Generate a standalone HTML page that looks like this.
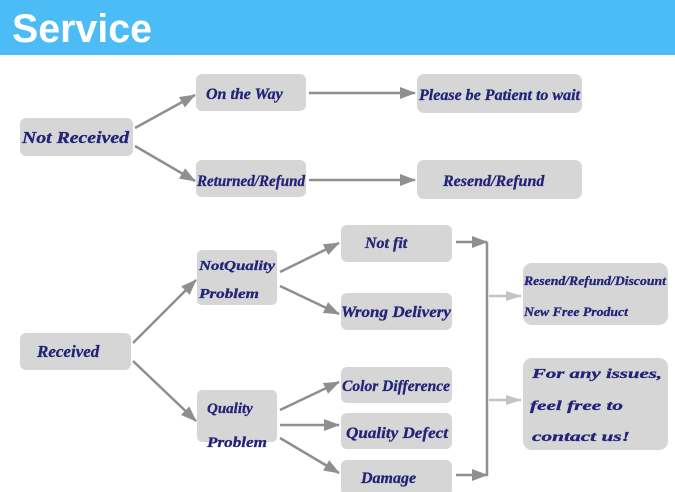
<!DOCTYPE html>
<html><head><style>
body{margin:0;width:675px;height:492px;overflow:hidden;background:#fff}
svg{display:block}
text{font-family:"Liberation Serif",serif;font-weight:bold;font-style:italic;fill:#23237a;stroke:#23237a;stroke-width:0.3}
</style></head><body>
<svg width="675" height="492" viewBox="0 0 675 492">
<defs>
<marker id="a" markerWidth="16" markerHeight="12" refX="15" refY="6" orient="auto" markerUnits="userSpaceOnUse"><path d="M0,0 L16,6 L0,12 z" fill="#8f8f8f"/></marker>
<marker id="b" markerWidth="16" markerHeight="12" refX="15" refY="6" orient="auto" markerUnits="userSpaceOnUse"><path d="M0,1 L16,6 L0,11 z" fill="#c4c4c4"/></marker>
</defs>
<rect x="0" y="0" width="675" height="55" fill="#4bbcf5"/>
<text x="12" y="42" style="font-family:'Liberation Sans',sans-serif;font-style:normal;font-weight:bold;fill:#fff;stroke:none;font-size:40px" textLength="140" lengthAdjust="spacingAndGlyphs">Service</text>
<g fill="#d6d6d6">
<rect x="20" y="118" width="113" height="38" rx="6"/>
<rect x="196" y="74" width="110" height="37" rx="6"/>
<rect x="417" y="74" width="165" height="39" rx="7"/>
<rect x="196" y="160" width="110" height="37" rx="6"/>
<rect x="417" y="160" width="165" height="39" rx="7"/>
<rect x="20" y="333" width="111" height="37" rx="6"/>
<rect x="197" y="250" width="80" height="55" rx="5"/>
<rect x="341" y="225" width="111" height="37" rx="6"/>
<rect x="341" y="293" width="111" height="37" rx="6"/>
<rect x="197" y="390" width="80" height="52" rx="5"/>
<rect x="341" y="367" width="111" height="36" rx="6"/>
<rect x="341" y="413" width="111" height="36" rx="6"/>
<rect x="341" y="460" width="111" height="36" rx="6"/>
<rect x="523" y="263" width="145" height="62" rx="9"/>
<rect x="523" y="358" width="145" height="92" rx="9"/>
</g>
<g stroke="#8f8f8f" stroke-width="2.5" fill="none">
<line x1="135" y1="128" x2="195" y2="95" marker-end="url(#a)"/>
<line x1="135" y1="146" x2="195" y2="181" marker-end="url(#a)"/>
<line x1="309" y1="93" x2="415" y2="93" marker-end="url(#a)"/>
<line x1="309" y1="180" x2="415" y2="180" marker-end="url(#a)"/>
<line x1="133" y1="343" x2="196" y2="280" marker-end="url(#a)"/>
<line x1="133" y1="361" x2="196" y2="421" marker-end="url(#a)"/>
<line x1="280" y1="272" x2="339" y2="243" marker-end="url(#a)"/>
<line x1="280" y1="286" x2="339" y2="314" marker-end="url(#a)"/>
<line x1="280" y1="410" x2="339" y2="382" marker-end="url(#a)"/>
<line x1="280" y1="425" x2="339" y2="425" marker-end="url(#a)"/>
<line x1="280" y1="438" x2="339" y2="473" marker-end="url(#a)"/>
<line x1="456" y1="242" x2="487" y2="242" marker-end="url(#a)"/>
<line x1="456" y1="475" x2="487" y2="475" marker-end="url(#a)"/>
<line x1="487" y1="242" x2="487" y2="476"/>
</g>
<g stroke="#c4c4c4" stroke-width="2.5">
<line x1="489" y1="296" x2="521" y2="296" marker-end="url(#b)"/>
<line x1="489" y1="400" x2="521" y2="400" marker-end="url(#b)"/>
</g>
<g font-size="16">
<text x="22" y="143" font-size="17" textLength="107" lengthAdjust="spacingAndGlyphs">Not Received</text>
<text x="206" y="99">On the Way</text>
<text x="419" y="100" textLength="161" lengthAdjust="spacingAndGlyphs">Please be Patient to wait</text>
<text x="197" y="186" textLength="108" lengthAdjust="spacingAndGlyphs">Returned/Refund</text>
<text x="443" y="186">Resend/Refund</text>
<text x="37" y="357" font-size="17">Received</text>
<text x="199" y="270" font-size="14" textLength="76" lengthAdjust="spacingAndGlyphs">NotQuality</text>
<text x="199" y="298" font-size="14" textLength="60" lengthAdjust="spacingAndGlyphs">Problem</text>
<text x="365" y="248">Not fit</text>
<text x="341" y="317" textLength="110" lengthAdjust="spacingAndGlyphs">Wrong Delivery</text>
<text x="207" y="413" font-size="15">Quality</text>
<text x="207" y="447" font-size="15" textLength="60" lengthAdjust="spacingAndGlyphs">Problem</text>
<text x="342" y="391" textLength="108" lengthAdjust="spacingAndGlyphs">Color Difference</text>
<text x="346" y="438" textLength="102" lengthAdjust="spacingAndGlyphs">Quality Defect</text>
<text x="361" y="483">Damage</text>
<text x="524" y="285" font-size="13" textLength="142" lengthAdjust="spacingAndGlyphs">Resend/Refund/Discount</text>
<text x="524" y="316" font-size="13" textLength="104" lengthAdjust="spacingAndGlyphs">New Free Product</text>
<g style="font-family:'DejaVu Serif',serif">
<text x="532" y="378" font-size="14" textLength="130" lengthAdjust="spacingAndGlyphs">For any issues,</text>
<text x="530" y="410" font-size="14" textLength="93" lengthAdjust="spacingAndGlyphs">feel free to</text>
<text x="532" y="441" font-size="14" textLength="98" lengthAdjust="spacingAndGlyphs">contact us!</text>
</g>
</g>
</svg>
</body></html>
